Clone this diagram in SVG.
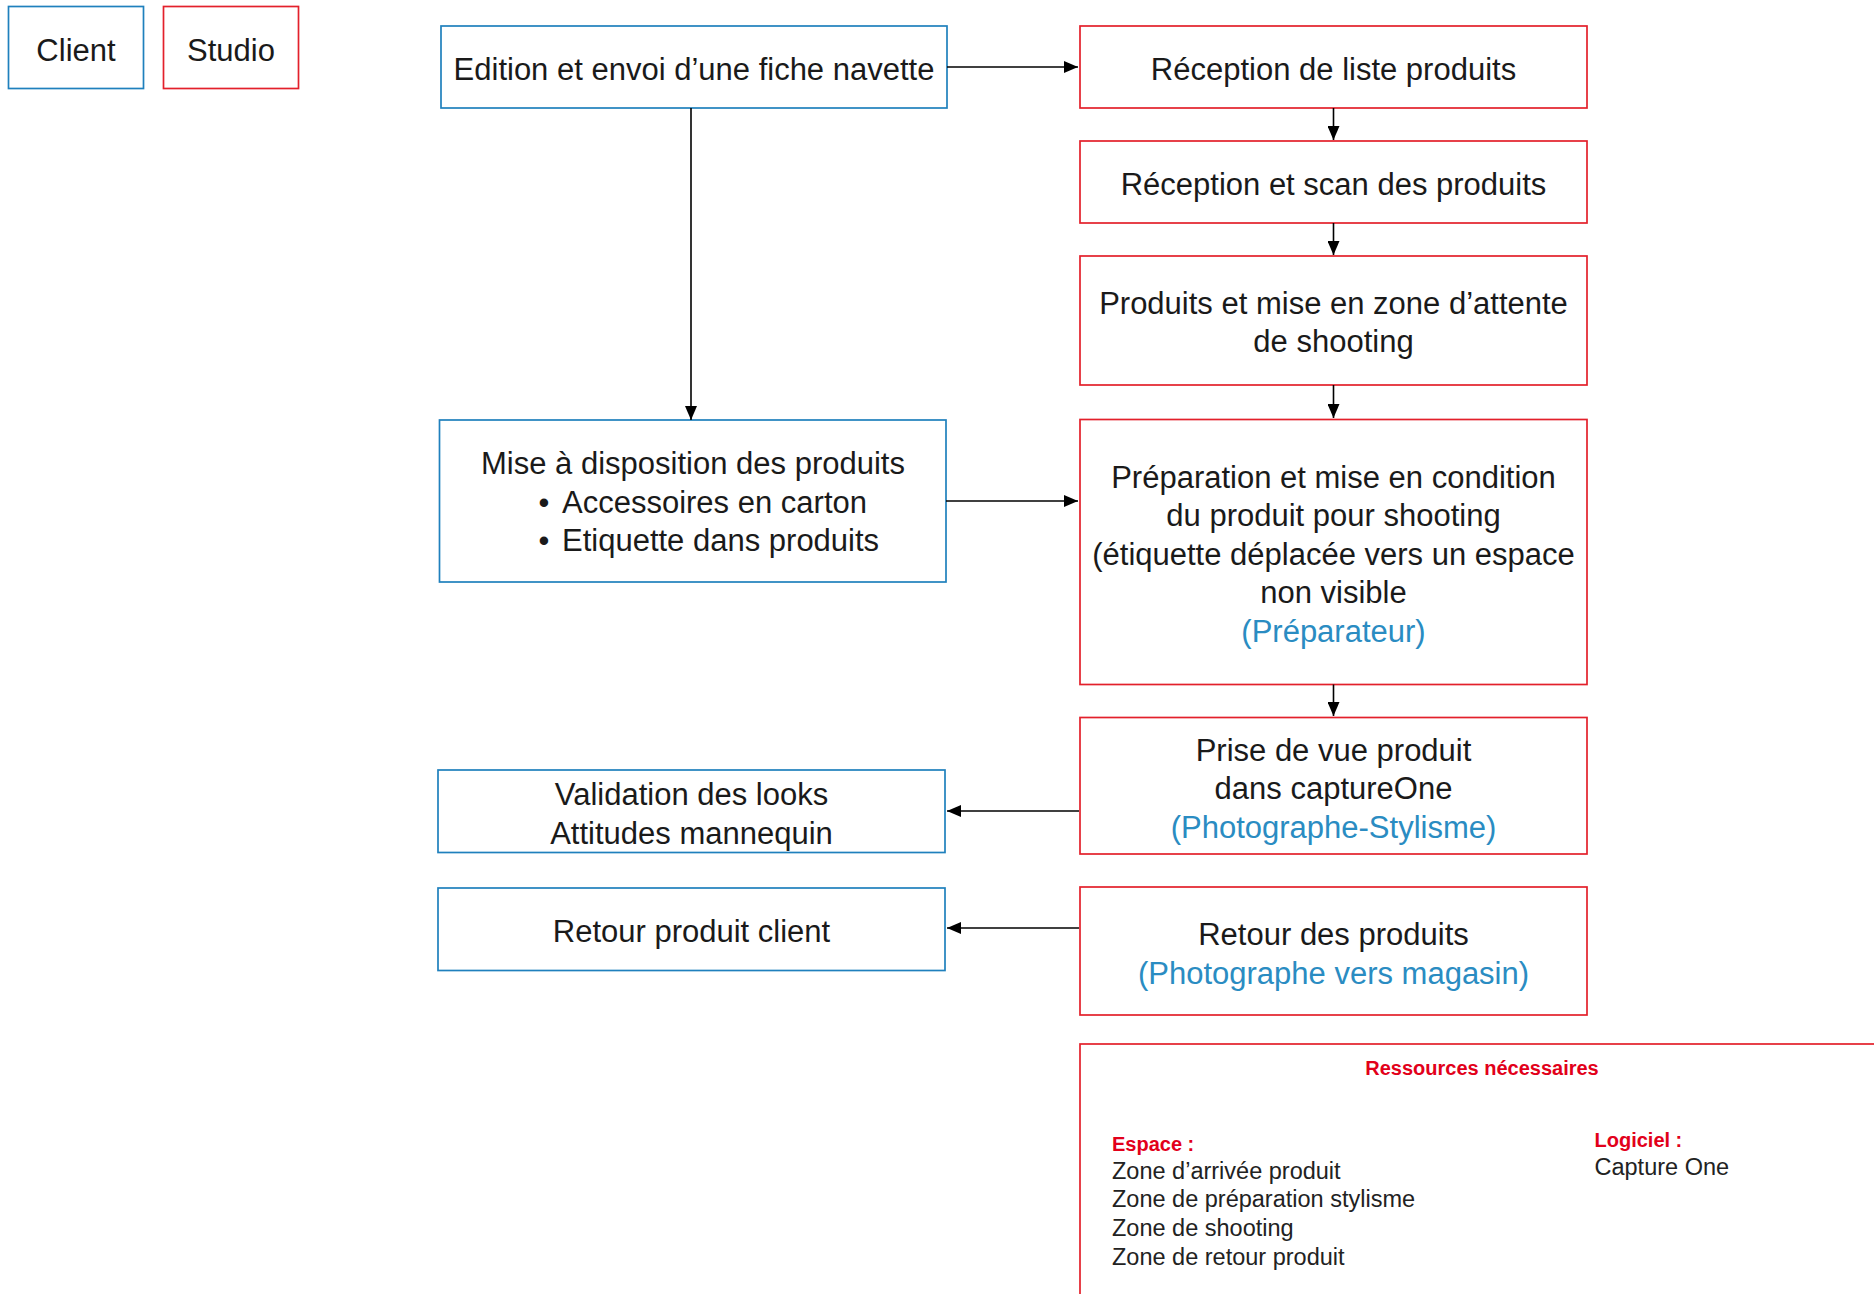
<svg xmlns="http://www.w3.org/2000/svg" width="1874" height="1294" viewBox="0 0 1874 1294">
<defs>
<style>
.t{font-family:"Liberation Sans",Arial,sans-serif;font-size:31px;fill:#1a1a1a;text-anchor:middle}
.b{fill:#2a8cc2}
.cb{fill:#fff;stroke:#1f80bd;stroke-width:1.7}
.sb{fill:#fff;stroke:#e3202b;stroke-width:1.7}
.ln{stroke:#000;stroke-width:1.6;fill:none}
.r{font-family:"Liberation Sans",Arial,sans-serif;font-size:23.5px;fill:#222}
.rh{font-family:"Liberation Sans",Arial,sans-serif;font-size:20px;font-weight:bold;fill:#e2001a}
</style>
<marker id="ah" markerWidth="14" markerHeight="12" refX="14" refY="6" orient="auto" markerUnits="userSpaceOnUse">
<path d="M0,0 L14,6 L0,12 Z" fill="#000"/>
</marker>
</defs>
<rect width="1874" height="1294" fill="#fff"/>

<g id="legend-client">
<rect class="cb" x="8.5" y="6.5" width="135" height="82"/>
<text class="t" x="76" y="60.5">Client</text>
</g>
<g id="legend-studio">
<rect class="sb" x="163.5" y="6.5" width="135" height="82"/>
<text class="t" x="231" y="60.5">Studio</text>
</g>

<g id="edition">
<rect class="cb" x="441" y="26" width="506" height="82"/>
<text class="t" x="694" y="80">Edition et envoi d’une fiche navette</text>
</g>
<g id="reception-liste">
<rect class="sb" x="1080" y="26" width="507" height="82"/>
<text class="t" x="1333.5" y="79.5">Réception de liste produits</text>
</g>
<g id="reception-scan">
<rect class="sb" x="1080" y="141" width="507" height="82"/>
<text class="t" x="1333.5" y="194.5">Réception et scan des produits</text>
</g>
<g id="zone-attente">
<rect class="sb" x="1080" y="256" width="507" height="129"/>
<text class="t" x="1333.5" y="313.5">Produits et mise en zone d’attente</text>
<text class="t" x="1333.5" y="352">de shooting</text>
</g>
<g id="preparation">
<rect class="sb" x="1080" y="419.5" width="507" height="265"/>
<text class="t" x="1333.5" y="487.5">Préparation et mise en condition</text>
<text class="t" x="1333.5" y="526">du produit pour shooting</text>
<text class="t" x="1333.5" y="564.5">(étiquette déplacée vers un espace</text>
<text class="t" x="1333.5" y="603">non visible</text>
<text class="t b" x="1333.5" y="641.5">(Préparateur)</text>
</g>
<g id="mise-disposition">
<rect class="cb" x="439.5" y="420" width="506.5" height="162"/>
<text class="t" x="693" y="474">Mise à disposition des produits</text>
<text class="t" x="544" y="512.5">•</text>
<text class="t" x="562" y="512.5" style="text-anchor:start">Accessoires en carton</text>
<text class="t" x="544" y="551">•</text>
<text class="t" x="562" y="551" style="text-anchor:start">Etiquette dans produits</text>
</g>
<g id="prise-de-vue">
<rect class="sb" x="1080" y="717.5" width="507" height="136.5"/>
<text class="t" x="1333.5" y="760.5">Prise de vue produit</text>
<text class="t" x="1333.5" y="799">dans captureOne</text>
<text class="t b" x="1333.5" y="837.5">(Photographe-Stylisme)</text>
</g>
<g id="validation">
<rect class="cb" x="438" y="770" width="507" height="82.5"/>
<text class="t" x="691.5" y="805">Validation des looks</text>
<text class="t" x="691.5" y="843.5">Attitudes mannequin</text>
</g>
<g id="retour-produits">
<rect class="sb" x="1080" y="887" width="507" height="128"/>
<text class="t" x="1333.5" y="945">Retour des produits</text>
<text class="t b" x="1333.5" y="983.5">(Photographe vers magasin)</text>
</g>
<g id="retour-client">
<rect class="cb" x="438" y="888" width="507" height="82.5"/>
<text class="t" x="691.5" y="941.5">Retour produit client</text>
</g>

<g id="ressources">
<rect x="1080" y="1044" width="900" height="300" fill="#fff" stroke="#e3202b" stroke-width="1.7"/>
<text class="rh" x="1482" y="1075" text-anchor="middle">Ressources nécessaires</text>
<text class="rh" x="1112" y="1150.5">Espace :</text>
<text class="r" x="1112" y="1178.5">Zone d’arrivée produit</text>
<text class="r" x="1112" y="1207">Zone de préparation stylisme</text>
<text class="r" x="1112" y="1236">Zone de shooting</text>
<text class="r" x="1112" y="1265">Zone de retour produit</text>
<text class="rh" x="1594.5" y="1146.5">Logiciel :</text>
<text class="r" x="1594.5" y="1175">Capture One</text>
</g>

<g id="connectors">
<line class="ln" x1="947" y1="67" x2="1078" y2="67" marker-end="url(#ah)"/>
<line class="ln" x1="691" y1="108" x2="691" y2="420" marker-end="url(#ah)"/>
<line class="ln" x1="1333.5" y1="108" x2="1333.5" y2="140" marker-end="url(#ah)"/>
<line class="ln" x1="1333.5" y1="223" x2="1333.5" y2="255" marker-end="url(#ah)"/>
<line class="ln" x1="1333.5" y1="385" x2="1333.5" y2="418" marker-end="url(#ah)"/>
<line class="ln" x1="1333.5" y1="684.5" x2="1333.5" y2="716" marker-end="url(#ah)"/>
<line class="ln" x1="946" y1="501" x2="1078" y2="501" marker-end="url(#ah)"/>
<line class="ln" x1="1079" y1="811" x2="947" y2="811" marker-end="url(#ah)"/>
<line class="ln" x1="1079" y1="928" x2="947" y2="928" marker-end="url(#ah)"/>
</g>
</svg>
